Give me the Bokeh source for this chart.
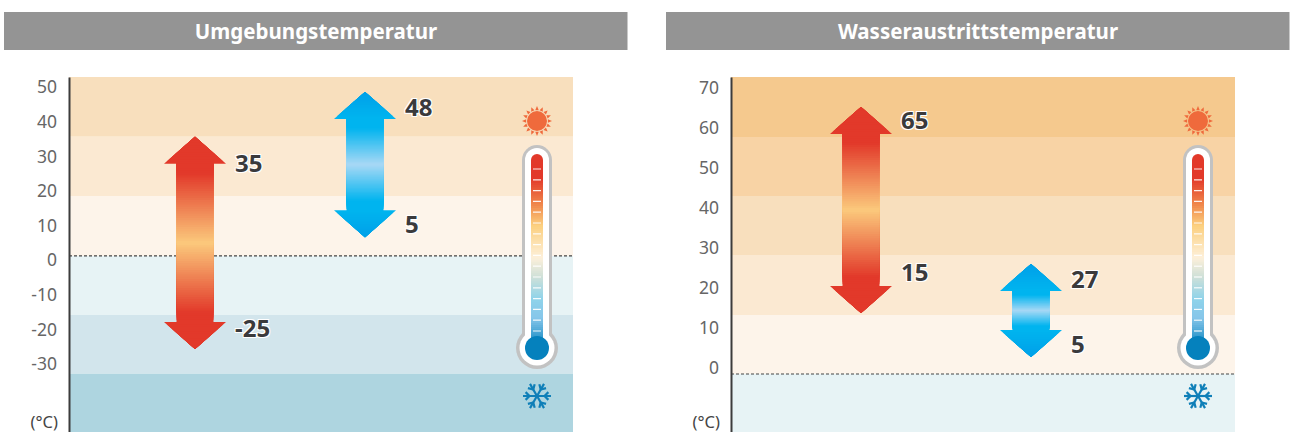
import numpy as np
from bokeh.core.properties import value
from bokeh.embed import file_html
from bokeh.layouts import row
from bokeh.models import FixedTicker, Label, LinearAxis, Range1d
from bokeh.plotting import figure
from bokeh.resources import INLINE

FONT = "Noto Sans"

# ---- data
left_title = "Umgebungstemperatur"
left_ticks = [-30, -20, -10, 0, 10, 20, 30, 40, 50]
left_tick_labels = ["-30", "-20", "-10", "0", "10", "20", "30", "40", "50"]
left_edges = [52.89, 35.59, 18.49, 1.19, -15.91, -32.91, -50.0]
left_zero_line = 1.19
left_red_values = [35, -25]
left_red_tips = [35.59, -25.71]
left_red_label_y = [27.79, -19.71]
left_blue_values = [48, 5]
left_blue_tips = [48.59, 6.59]
left_blue_label_y = [43.99, 10.39]

right_title = "Wasseraustrittstemperatur"
right_ticks = [0, 10, 20, 30, 40, 50, 60, 70]
right_tick_labels = ["0", "10", "20", "30", "40", "50", "60", "70"]
right_edges = [72.5, 57.5, 42.75, 28.0, 13.0, -1.75, -16.5]
right_zero_line = -1.75
right_red_values = [65, 15]
right_red_tips = [65.0, 13.5]
right_red_label_y = [61.75, 23.75]
right_blue_values = [27, 5]
right_blue_tips = [25.75, 2.5]
right_blue_label_y = [22.0, 5.75]

left_band_colors = ["#f8dfbd", "#fbe9d2", "#fdf4ea", "#e7f3f5", "#d2e5ec", "#aed5e0"]
right_band_colors = ["#f5c98e", "#f8d3a5", "#f8dfbd", "#fbe9d2", "#fdf4ea", "#e7f3f5"]

RED_STOPS = [(0.0, "#e2392a"), (0.06, "#e2392a"), (0.5, "#fbc97c"), (0.94, "#e2392a"), (1.0, "#e2392a")]
BLUE_STOPS = [(0.0, "#00b4ef"), (0.1, "#00b4ef"), (0.5, "#a8d8f5"), (0.9, "#00b4ef"), (1.0, "#00b4ef")]
THERMO_STOPS = [(0.0, "#e2392a"), (0.1, "#e2392a"), (0.24, "#f0894c"), (0.35, "#fcd07f"),
                (0.52, "#fdf0da"), (0.62, "#cfe0d8"), (0.74, "#8fd3ea"), (0.84, "#86c6ea"), (1.0, "#0581bd")]

HALF_PX = 0.5  # sub-pixel placement of the whole drawing inside each frame


def hex_rgb(c):
    return np.array([int(c[i:i + 2], 16) for i in (1, 3, 5)], dtype=float)


def ramp(stops, t):
    ts = [s[0] for s in stops]
    cols = np.array([hex_rgb(s[1]) for s in stops])
    return ["#%02x%02x%02x" % tuple(int(round(np.interp(v, ts, cols[:, k]))) for k in range(3)) for v in t]


def head(p, cx, tip, base, base_col, tip_col):
    # stacked shrinking triangles paint the vertical shading of an arrow head
    fr = np.linspace(1, 0.05, 12)
    cols = ramp([(0, tip_col), (1, base_col)], fr)
    xs = [[cx - 31 * f, cx, cx + 31 * f] for f in fr]
    by = tip + (base - tip) * fr
    ys = [[b, tip, b] for b in by]
    p.patches(xs, ys, fill_color=cols, line_color=None)


def arrow(p, cx, tips, stops, tip_col, px_per_unit):
    hi, lo = tips
    h = 27 / px_per_unit
    base_hi, base_lo = hi - h, lo + h
    n = 70
    edges = np.linspace(base_lo, base_hi, n + 1)
    edges[0] -= 1.5 / px_per_unit
    colors = ramp(stops, (np.arange(n) + 0.5) / n)
    # each slice reaches the top of the shaft and is overpainted by the next: no seams
    p.quad(left=cx - 18.5, right=cx + 18.5, bottom=edges[:-1], top=base_hi + 1.5 / px_per_unit,
           fill_color=colors, line_color=None)
    head(p, cx, hi, base_hi, stops[0][1], tip_col)
    head(p, cx, lo, base_lo, stops[0][1], tip_col)


def thermometer(p, cx):
    kw = dict(y_range_name="px")
    sun_y, top, bulb = 44, 83, 271   # frame pixels, decoration only
    # sun rays as small outward triangles
    ang = np.arange(16) * np.pi / 8
    xs = [[cx + 11 * np.cos(a - 0.16), cx + 15 * np.cos(a), cx + 11 * np.cos(a + 0.16)] for a in ang]
    ys = [[sun_y + 11 * np.sin(a - 0.16), sun_y + 15 * np.sin(a), sun_y + 11 * np.sin(a + 0.16)] for a in ang]
    p.patches(xs, ys, fill_color="#ef6a3c", line_color=None, **kw)
    p.scatter([cx], [sun_y], marker="circle", size=20, fill_color="#ef6a3c", line_color=None, **kw)
    # tube
    p.line([cx, cx], [top, bulb], line_width=30, line_color="#c2c2c2", line_cap="round", **kw)
    p.scatter([cx], [bulb], marker="circle", size=42, fill_color="#c2c2c2", line_color=None, **kw)
    p.line([cx, cx], [top, bulb], line_width=24, line_color="#ffffff", line_cap="round", **kw)
    p.scatter([cx], [bulb], marker="circle", size=35, fill_color="#ffffff", line_color=None, **kw)
    p.line([cx, cx], [top, top + 6], line_width=12, line_color="#e2392a", line_cap="round", **kw)
    n = 90
    edges = np.linspace(top, bulb, n + 1)
    colors = ramp(THERMO_STOPS, (np.arange(n) + 0.5) / n)
    p.quad(left=cx - 6, right=cx + 6, top=edges[:-1], bottom=bulb, fill_color=colors, line_color=None, **kw)
    p.scatter([cx], [bulb], marker="circle", size=24, fill_color="#0581bd", line_color=None, **kw)
    ty = 92 + np.arange(16) * 10.8
    p.segment(cx - 4, ty, cx + 4, ty, line_color="#ffffff", line_width=1.2, line_alpha=0.9, **kw)
    # snowflake
    fy, xs, ys = 319, [], []
    for a in np.arange(6) * np.pi / 3:
        d = np.array([np.cos(a), np.sin(a)])
        xs.append([cx, cx + 14 * d[0]])
        ys.append([fy, fy + 14 * d[1]])
        for s in (-1, 1):
            b = a + s * np.pi / 4
            c = 7.5 * d
            xs.append([cx + c[0], cx + c[0] + 5.5 * np.cos(b)])
            ys.append([fy + c[1], fy + c[1] + 5.5 * np.sin(b)])
    p.multi_line(xs, ys, line_color="#0f7fb8", line_width=2.2, **kw)


def panel(title, ticks, labels, edges, zero, colors, red, red_tips, red_y, blue, blue_tips, blue_y,
          width, border_l, px_per_unit, red_x, blue_x, thermo_x, label_dx, x0):
    # the frame reaches up to the title band and out over the axis labels
    y_top = edges[0] + (65 + HALF_PX) / px_per_unit
    p = figure(width=width, height=433, output_backend="svg", toolbar_location=None,
               x_range=Range1d(-x0 - HALF_PX, 624 - x0 - HALF_PX),
               y_range=Range1d(y_top - 421 / px_per_unit, y_top),
               x_axis_location=None, y_axis_location=None,
               min_border_left=border_l, min_border_right=width - border_l - 624,
               min_border_top=12, min_border_bottom=0)
    p.extra_y_ranges = {"px": Range1d(356 - HALF_PX, -65 - HALF_PX)}
    p.outline_line_color = None
    p.grid.visible = False
    p.background_fill_color = None
    p.border_fill_color = None

    p.quad(left=0, right=504, top=edges[:-1], bottom=edges[1:], fill_color=colors, line_color=None)
    p.segment(0, zero, 504, zero, line_color="#444444", line_width=1.2, line_dash="3 2")

    ax = LinearAxis(ticker=FixedTicker(ticks=ticks), fixed_location=0, bounds=(edges[-1], edges[0]),
                    major_label_overrides={t: l for t, l in zip(ticks, labels)})
    ax.axis_line_color = "#3c3c3c"
    ax.axis_line_width = 2
    ax.major_tick_line_color = None
    ax.minor_tick_line_color = None
    ax.major_label_standoff = 6
    ax.major_label_text_color = "#666666"
    ax.major_label_text_font = FONT
    ax.major_label_text_font_size = "17.5px"
    p.add_layout(ax, "left")

    arrow(p, blue_x, blue_tips, BLUE_STOPS, "#009fe8", px_per_unit)
    arrow(p, red_x, red_tips, RED_STOPS, "#e2392a", px_per_unit)
    thermometer(p, thermo_x)

    for vals, ys, x in ((red, red_y, red_x + label_dx), (blue, blue_y, blue_x + label_dx)):
        txt = [str(v) for v in vals]
        common = dict(text_font=value(FONT), text_font_style="bold", text_font_size="24px",
                      text_align="left", text_baseline="middle")
        for dx, dy in ((-1, -1), (1, -1), (-1, 1), (1, 1)):
            p.text([x] * 2, ys, text=txt, x_offset=dx, y_offset=dy, text_color="#ffffff", **common)
        p.text([x] * 2, ys, text=txt, text_color="#3a3a3c", **common)

    p.quad(left=-x0, right=624 - x0, top=-65, bottom=-27, fill_color="#949494", line_color=None, y_range_name="px")
    p.add_layout(Label(x=312 - x0, y=-46, y_range_name="px", text=title, text_color="#ffffff",
                       text_font=FONT, text_font_style="bold", text_font_size="20.5px",
                       text_align="center", text_baseline="middle"))
    p.add_layout(Label(x=-11, y=344, y_range_name="px", text="(°C)", text_color="#444444",
                       text_font=FONT, text_font_size="16.5px", text_align="right", text_baseline="middle"))
    return p


p1 = panel(left_title, left_ticks, left_tick_labels, left_edges, left_zero_line, left_band_colors,
           left_red_values, left_red_tips, left_red_label_y,
           left_blue_values, left_blue_tips, left_blue_label_y,
           650, 4, 3.46, 126, 296, 468, 40, 65)
p2 = panel(right_title, right_ticks, right_tick_labels, right_edges, right_zero_line, right_band_colors,
           right_red_values, right_red_tips, right_red_label_y,
           right_blue_values, right_blue_tips, right_blue_label_y,
           643, 16, 4.0, 130, 300, 467, 40, 65)

page = row(p1, p2, spacing=0, styles={"position": "absolute", "left": "-1px", "top": "-1px"})
open("out.html", "w").write(file_html(page, INLINE))
